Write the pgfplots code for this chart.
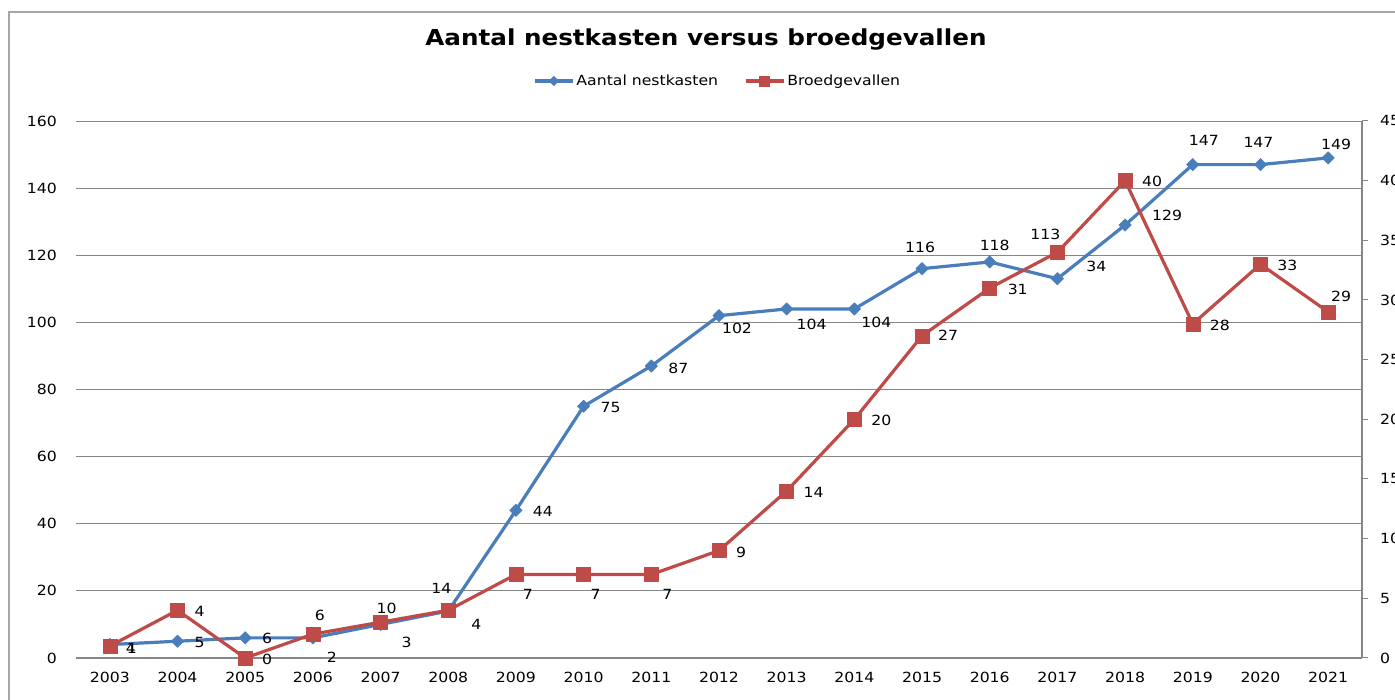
\documentclass[border=0pt]{standalone}
\usepackage{fontspec}
\setmainfont{DejaVu Sans}[FakeStretch=1.12]
\usepackage{pgfplots}
\pgfplotsset{compat=1.18}
\usepackage{pgfplotstable}
\definecolor{cblue}{RGB}{74,126,187}
\definecolor{cred}{RGB}{190,75,72}
\definecolor{gridc}{RGB}{134,134,134}
\definecolor{axc}{RGB}{134,134,134}
\definecolor{framec}{RGB}{166,166,166}

% i = category index (2003 = 0), v = value, dx/dy = label offset in pt (dy upward)
\pgfplotstableread{
i v dx dy
0 4 21 -4
1 5 22 -1
2 6 22 -1
3 6 7 22
4 10 6 16
5 14 -7 23
6 44 27 -1
7 75 27 -1
8 87 27 -2
9 102 18 -13
10 104 25 -15
11 104 22 -13
12 116 -2 21
13 118 5 17
14 113 -12 44
15 129 42 10
16 147 11 24
17 147 -2 22
18 149 8 14
}\nestkasten

\pgfplotstableread{
i v dx dy
0 1 22 -2
1 4 22 -1
2 0 22 -1
3 2 19 -23
4 3 26 -20
5 4 28 -14
6 7 12 -20
7 7 12 -20
8 7 16 -20
9 9 22 -2
10 14 27 -1
11 20 27 -1
12 27 26 0
13 31 28 -1
14 34 39 -14
15 40 27 -1
16 28 27 -2
17 33 27 -1
18 29 13 16
}\broed

\pgfplotsset{
  common/.style={
    at={(76pt,42pt)}, anchor=south west,
    scale only axis, width=1286pt, height=537pt,
    xmin=-0.5, xmax=18.5,
    clip=false,
    /pgf/number format/assume math mode=true,
    tick label style={font=\fontsize{14}{16}\selectfont},
  },
  labelled/.style={
    nodes near coords,
    point meta=explicit,
    visualization depends on={\thisrow{dx}\as\lblx},
    visualization depends on={\thisrow{dy}\as\lbly},
    nodes near coords style={anchor=center, inner sep=0pt,
      xshift=\lblx, yshift=\lbly, font=\fontsize{14}{16}\selectfont, text=black},
  },
}

\begin{document}
\begin{tikzpicture}
\useasboundingbox (0pt,0pt) rectangle (1395pt,700pt);
\clip (0pt,0pt) rectangle (1395pt,700pt);
\draw[framec, line width=1.5pt] (9pt,688pt) rectangle (1420pt,-20pt);
\node[font=\bfseries\fontsize{22}{26}\selectfont] at (706pt,660pt) {Aantal nestkasten versus broedgevallen};

\begin{axis}[common,
  ymin=0, ymax=160, ytick={0,20,...,160},
  xtick={0,...,18},
  xticklabels={2003,2004,2005,2006,2007,2008,2009,2010,2011,2012,2013,2014,2015,2016,2017,2018,2019,2020,2021},
  axis y line*=left, axis x line*=bottom,
  y axis line style={draw=none},
  x axis line style={-, draw=axc, line width=2pt},
  ymajorgrids, major grid style={draw=gridc, line width=0.8pt},
  xtick style={draw=none}, ytick style={draw=none},
  yticklabel style={anchor=east, inner sep=0pt, xshift=-19pt},
  xticklabel style={anchor=center, inner sep=0pt, yshift=-19pt},
]
\addplot[labelled, forget plot, cblue, line width=3.2pt, line join=round, mark=square*, mark size=4.4pt,
  mark options={solid, rotate=45, fill=cblue, draw=cblue, line width=0.5pt}]
  table[x=i, y=v, meta=v] {\nestkasten};
\end{axis}

\begin{axis}[common,
  ymin=0, ymax=45, ytick={0,5,...,45},
  axis y line*=right, axis x line=none,
  y axis line style={-, draw=axc, line width=1.2pt},
  ytick style={draw=axc, line width=1pt}, tick align=outside, major tick length=6pt,
  yticklabel style={anchor=west, inner sep=0pt, xshift=12pt},
  legend style={draw=none, fill=none, at={(0.499,1.0745)}, anchor=center,
    font=\fontsize{14}{16}\selectfont, legend columns=2,
    /tikz/every even column/.append style={column sep=24pt},
    /tikz/every odd column/.append style={column sep=0pt}},
  legend image code/.code={\draw[mark repeat=2,mark phase=2,#1] plot coordinates {(0pt,0pt)(19pt,0pt)(38pt,0pt)};},
]
\addlegendimage{cblue, line width=3.2pt, mark=square*, mark size=3.3pt, mark options={solid, rotate=45, fill=cblue, draw=cblue, line width=0.5pt}}
\addlegendentry{Aantal nestkasten}
\addlegendimage{cred, line width=3.2pt, mark=square*, mark size=5pt, mark options={solid, fill=cred, draw=cred, line width=0.5pt}}
\addlegendentry{Broedgevallen}
\addplot[labelled, forget plot, cred, line width=3.2pt, line join=round, mark=square*, mark size=7pt,
  mark options={solid, fill=cred, draw=cred, line width=0.5pt}]
  table[x=i, y=v, meta=v] {\broed};
\end{axis}
\end{tikzpicture}
\end{document}
